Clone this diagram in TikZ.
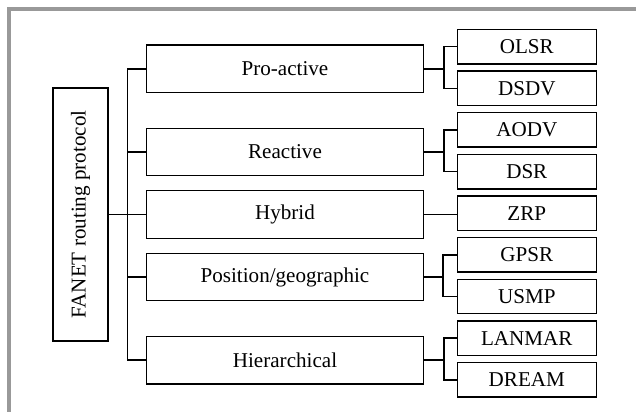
\documentclass[tikz,border=0pt]{standalone}
\usepackage{fontspec}
\setmainfont{Liberation Serif}
\usepackage{tikz}
\usetikzlibrary{positioning,calc}
\usepackage{xcolor}

\begin{document}
\begin{tikzpicture}[
    root/.style={rectangle, draw, line width=0.8pt, minimum width=1.1cm, minimum height=5.06cm, font=\fontsize{12}{14}\selectfont},
    cat/.style={rectangle, draw, line width=0.8pt, minimum width=5.53cm, minimum height=0.95cm, font=\fontsize{12}{14}\selectfont},
    lf/.style={rectangle, draw, line width=0.8pt, minimum width=2.78cm, minimum height=0.69cm, font=\fontsize{12}{14}\selectfont},
    lnk/.style={line width=0.8pt},
    frm/.style={line width=1.9pt, black!40}
]
\useasboundingbox (0,0) rectangle (12.72,-8.24);
\draw[frm] (0.18,-8.3) -- (0.18,-0.18) -- (12.8,-0.18);
% root
\node[root] (fanet) at (1.61,-4.29) {\rotatebox{90}{FANET routing protocol}};
% classes
\node[cat] (pro) at (5.70,-1.377) {Pro-active};
\node[cat] (rea) at (5.70,-3.04) {Reactive};
\node[cat] (hyb) at (5.70,-4.29) {Hybrid};
\node[cat] (pos) at (5.70,-5.54) {Position/geographic};
\node[cat] (hie) at (5.70,-7.204) {Hierarchical};
% protocols
\node[lf] (olsr) at (10.536,-0.933) {OLSR};
\node[lf] (dsdv) at (10.536,-1.766) {DSDV};
\node[lf] (aodv) at (10.536,-2.599) {AODV};
\node[lf] (dsr) at (10.536,-3.432) {DSR};
\node[lf] (zrp) at (10.536,-4.265) {ZRP};
\node[lf] (gpsr) at (10.536,-5.098) {GPSR};
\node[lf] (usmp) at (10.536,-5.931) {USMP};
\node[lf] (lanmar) at (10.536,-6.764) {LANMAR};
\node[lf] (dream) at (10.536,-7.597) {DREAM};
% trunk
\coordinate (tk) at (2.555,-4.29);
\draw[lnk] (fanet.east) -- (tk);
\foreach \c in {pro,rea,hyb,pos,hie}
  \draw[lnk] (\c.west) -| (tk);
% brackets
\coordinate (b1) at ($(pro.east)+(0.4,0)$);
\coordinate (b2) at ($(rea.east)+(0.4,0)$);
\coordinate (b4) at ($(pos.east)+(0.38,0)$);
\coordinate (b5) at ($(hie.east)+(0.4,0)$);
\draw[lnk] (pro.east) -- (b1);
\draw[lnk] (rea.east) -- (b2);
\draw[lnk] (pos.east) -- (b4);
\draw[lnk] (hie.east) -- (b5);
\draw[lnk] (olsr.west) -| (b1) |- (dsdv.west);
\draw[lnk] (aodv.west) -| (b2) |- (dsr.west);
\draw[lnk] (gpsr.west) -| (b4) |- (usmp.west);
\draw[lnk] (lanmar.west) -| (b5) |- (dream.west);
\draw[lnk] (hyb.east) -- (hyb.east -| zrp.west);
\end{tikzpicture}
\end{document}
